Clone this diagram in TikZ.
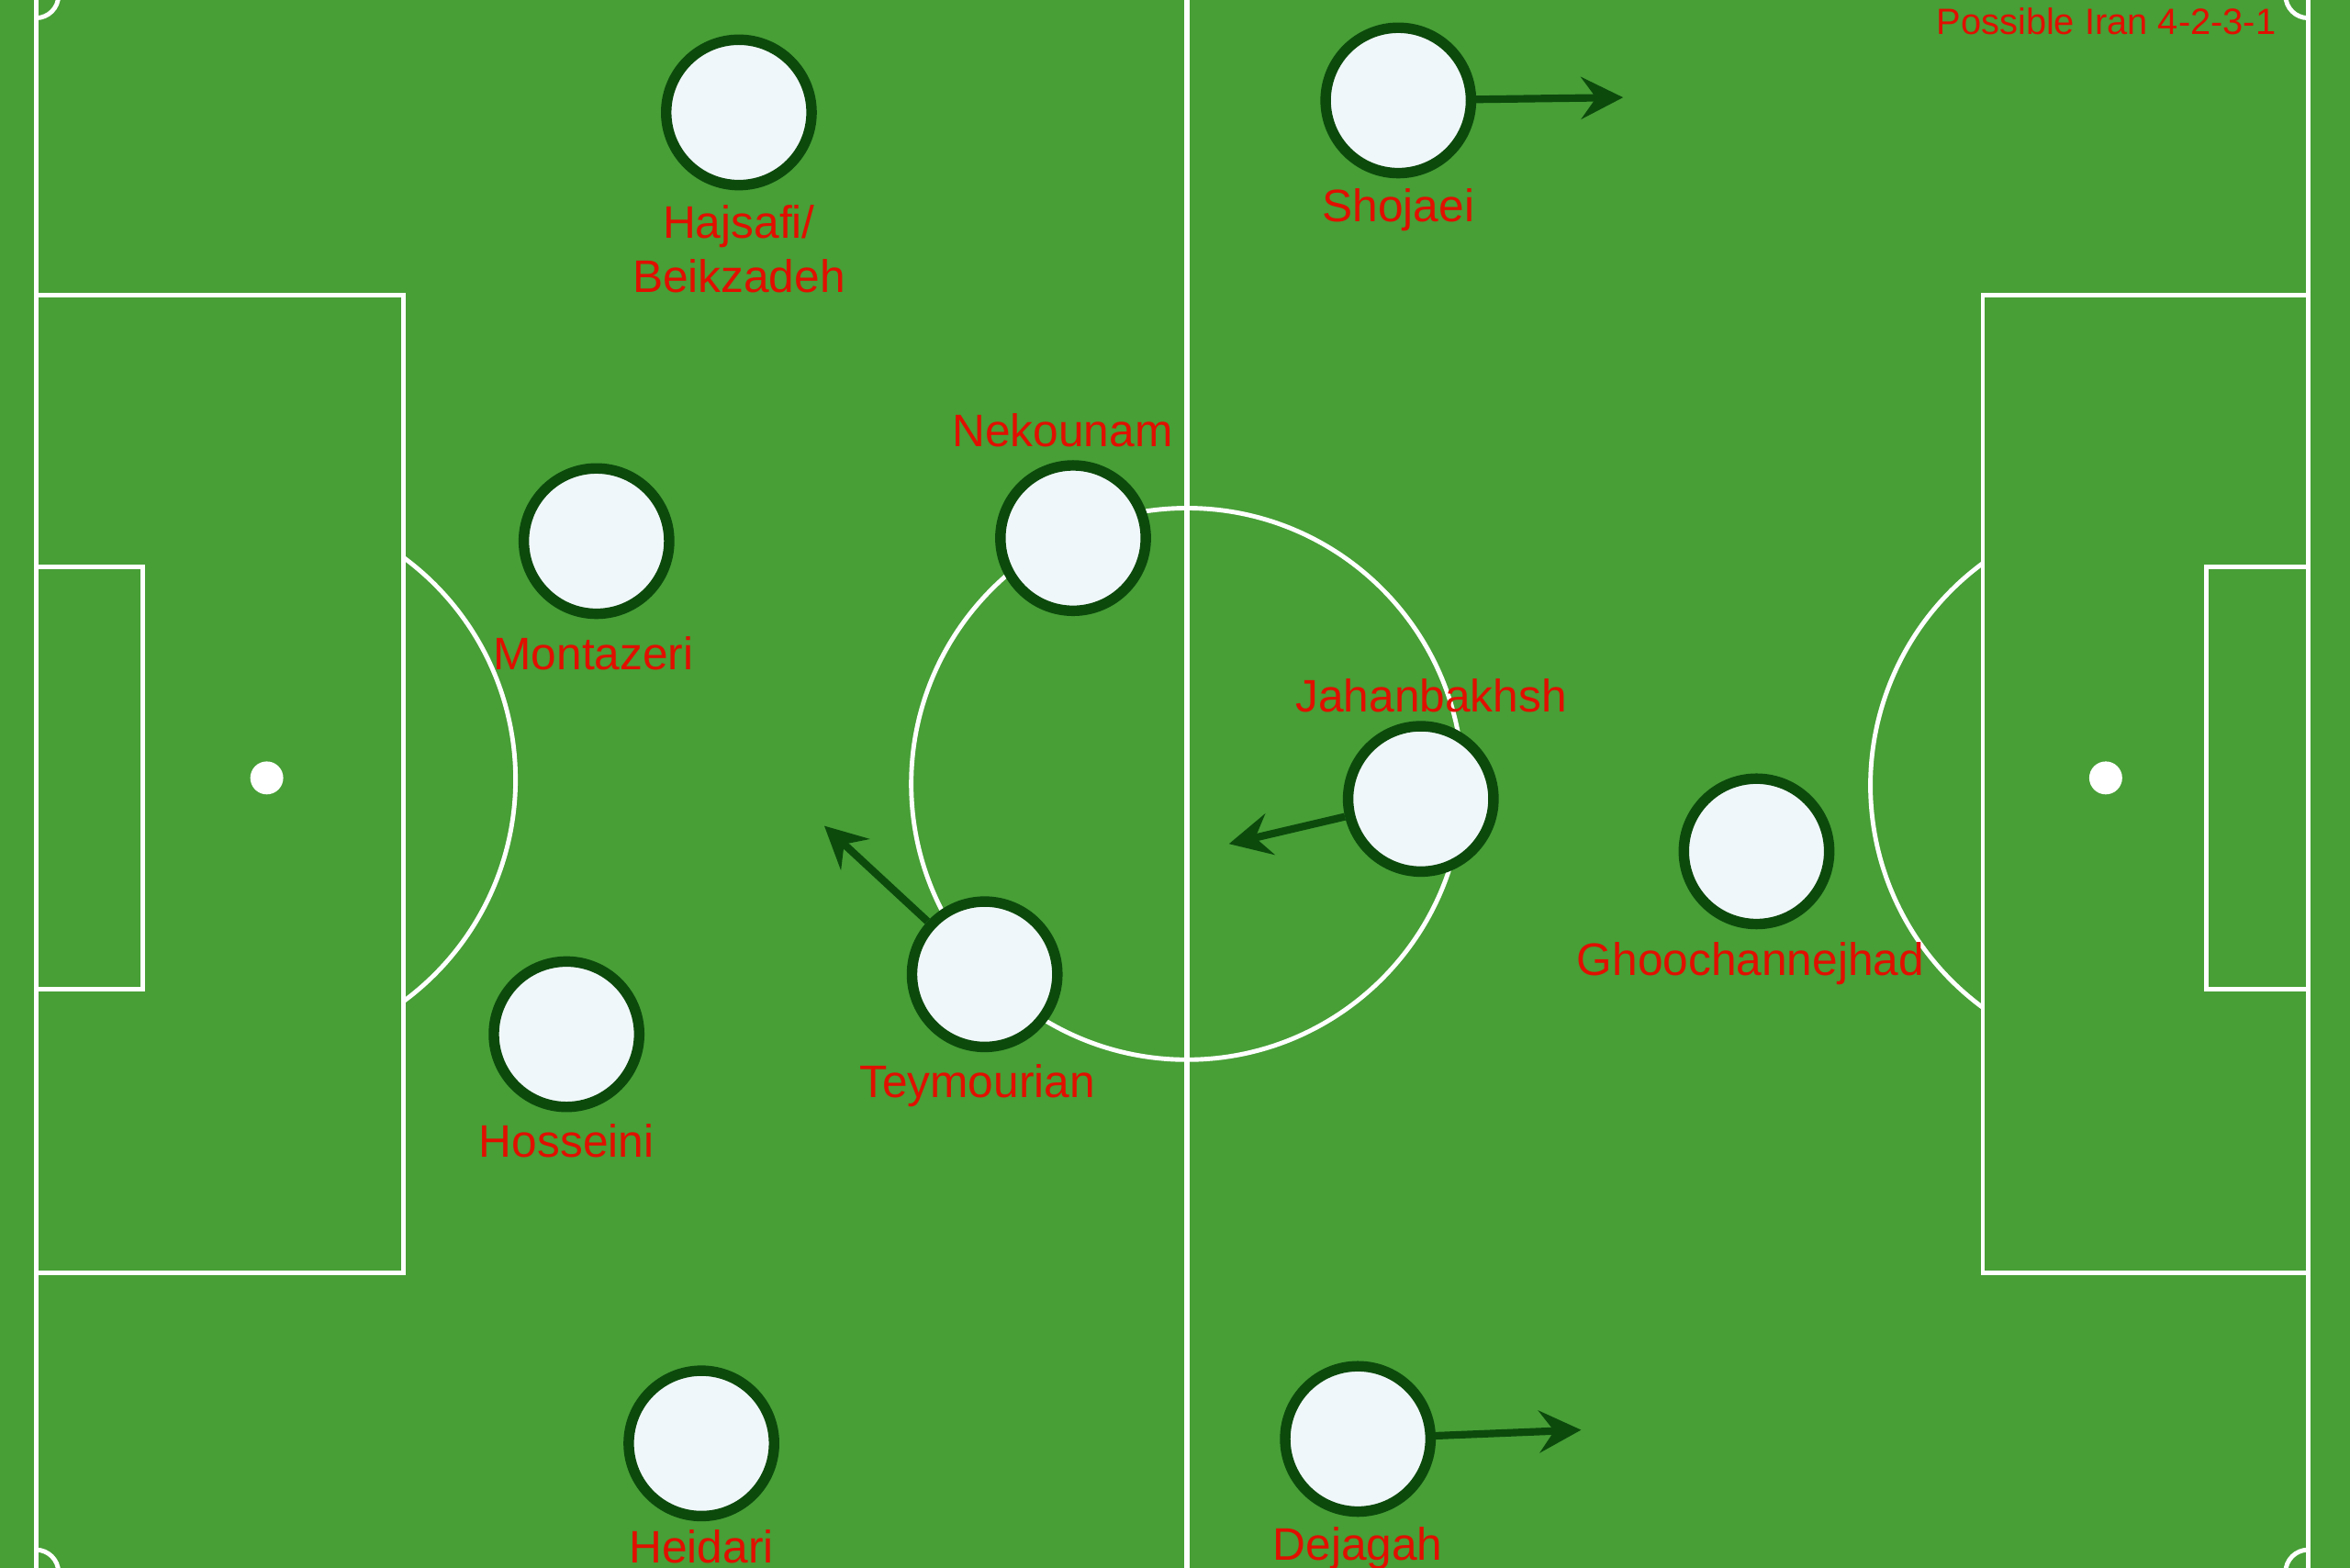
\documentclass[tikz,border=0pt]{standalone}
\usepackage{fontspec}
\setmainfont{Liberation Sans}
\usetikzlibrary{arrows.meta}
\definecolor{pitch}{RGB}{71,159,54}
\definecolor{ringgreen}{RGB}{12,74,12}
\definecolor{playerfill}{RGB}{240,247,250}
\definecolor{labelred}{RGB}{225,15,0}
\tikzset{
  fieldline/.style={draw=white, line width=1.5pt},
  player/.style={circle, draw=ringgreen, fill=playerfill, line width=3.5pt, minimum size=48.5pt, inner sep=0pt},
  lbl/.style={text=labelred, font=\fontsize{15.2pt}{17.5pt}\selectfont, anchor=base, inner sep=0pt},
  titletext/.style={text=labelred, font=\fontsize{12.2pt}{14pt}\selectfont, anchor=base east, inner sep=0pt},
  move/.style={draw=ringgreen, line width=2.5pt, -{Stealth[length=14pt, width=14pt, inset=5pt]}},
  spot/.style={fill=white}
}
\begin{document}
\begin{tikzpicture}[x=0.5pt, y=-0.5pt]
\useasboundingbox (0,0) rectangle (1568,1046);
\fill[pitch] (0,0) rectangle (1568,1046);
\begin{scope}
\clip (0,0) rectangle (1568,1046);
% touchlines and goal lines
\draw[fieldline] (24,-3) -- (24,1049);
\draw[fieldline] (1540,-3) -- (1540,1049);
\draw[fieldline] (24,-3) -- (1540,-3);
\draw[fieldline] (24,1049) -- (1540,1049);
% halfway line and centre circle
\draw[draw=white, line width=2pt] (792,-10) -- (792,1060);
\draw[fieldline] (792,523) circle[radius=92pt];
% left penalty area
\draw[fieldline] (24,197) -- (269,197) -- (269,849) -- (24,849);
\draw[fieldline] (24,378) -- (95,378) -- (95,660) -- (24,660);
\fill[spot] (178,519) circle[radius=5.5pt];
\draw[fieldline] (160,520) ++(-53.7:92pt) arc[start angle=-53.7, end angle=53.7, radius=92pt];
% right penalty area
\draw[fieldline] (1540,197) -- (1323,197) -- (1323,849) -- (1540,849);
\draw[fieldline] (1540,378) -- (1472,378) -- (1472,660) -- (1540,660);
\fill[spot] (1405,519) circle[radius=5.5pt];
\draw[fieldline] (1432,524) ++(126.3:92pt) arc[start angle=126.3, end angle=233.7, radius=92pt];
% corner arcs
\draw[fieldline] (24,-3) ++(0,15) arc[start angle=-90, end angle=0, radius=7.5pt];
\draw[fieldline] (24,1049) ++(0,-15) arc[start angle=90, end angle=0, radius=7.5pt];
\draw[fieldline] (1540,-3) ++(0,15) arc[start angle=270, end angle=180, radius=7.5pt];
\draw[fieldline] (1540,1049) ++(0,-15) arc[start angle=90, end angle=180, radius=7.5pt];
\end{scope}
% title
\node[titletext] (title) at (1519,23) {Possible Iran 4-2-3-1};
% players
\node[player] (hajsafi) at (493,75) {};
\node[player] (montazeri) at (398,361) {};
\node[player] (hosseini) at (378,690) {};
\node[player] (heidari) at (468,963) {};
\node[player] (nekounam) at (716,359) {};
\node[player] (teymourian) at (657,650) {};
\node[player] (shojaei) at (933,67) {};
\node[player] (jahanbakhsh) at (948,533) {};
\node[player] (ghoochannejhad) at (1172,568) {};
\node[player] (dejagah) at (906,960) {};
% labels
\node[lbl] (hajsafiA) at (493,159) {Hajsafi/};
\node[lbl] (hajsafiB) at (493,195) {Beikzadeh};
\node[lbl] (montazeriL) at (396,447) {Montazeri};
\node[lbl] (hosseiniL) at (378,772) {Hosseini};
\node[lbl] (heidariL) at (468,1043) {Heidari};
\node[lbl] (nekounamL) at (709,298) {Nekounam};
\node[lbl] (teymourianL) at (652,732) {Teymourian};
\node[lbl] (shojaeiL) at (933,148) {Shojaei};
\node[lbl] (jahanbakhshL) at (955,475) {Jahanbakhsh};
\node[lbl] (ghoochannejhadL) at (1168,651) {Ghoochannejhad};
\node[lbl] (dejagahL) at (906,1041) {Dejagah};
% movement arrows
\coordinate (shojaeiT) at (1083,65);
\coordinate (jahanbakhshT) at (820,563);
\coordinate (teymourianT) at (550,551);
\coordinate (dejagahT) at (1055,954);
\draw[move] (shojaei) -- (shojaeiT);
\draw[move] (jahanbakhsh) -- (jahanbakhshT);
\draw[move] (teymourian) -- (teymourianT);
\draw[move] (dejagah) -- (dejagahT);
\end{tikzpicture}
\end{document}
